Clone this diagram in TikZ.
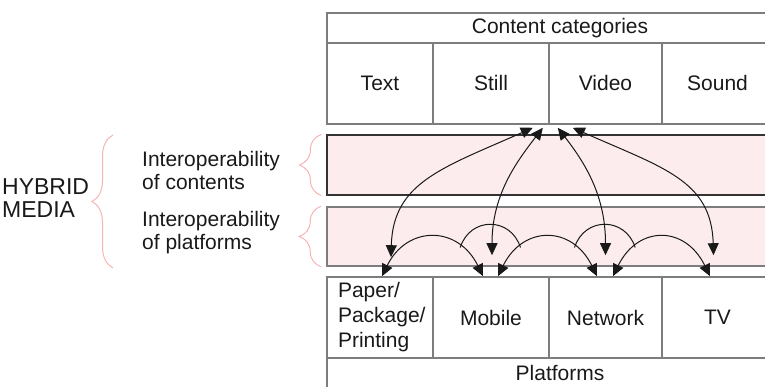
\documentclass[tikz,border=0pt]{standalone}
\usepackage{fontspec}
\setmainfont{Liberation Sans}
\usetikzlibrary{arrows.meta,decorations.pathreplacing}
\definecolor{boxgray}{RGB}{125,125,125}
\definecolor{bandpink}{RGB}{253,236,238}
\definecolor{bracepink}{RGB}{246,180,182}
\definecolor{inkgray}{RGB}{25,25,25}
\tikzstyle{cell}=[draw=boxgray,line width=1.6pt,inner sep=0pt,minimum height=81pt,text=inkgray]
\tikzstyle{band}=[cell,fill=bandpink,minimum width=466pt,minimum height=60pt]
\tikzstyle{link}=[draw=inkgray,line width=1pt]
\tikzstyle{both}=[link,<->,>={Triangle[length=12pt,width=11pt]}]
\tikzstyle{lbl}=[align=left,inner sep=0pt,text=inkgray]
\tikzstyle{curly}=[draw=bracepink,line width=1pt,decorate]

\begin{document}
\begin{tikzpicture}[x=1pt,y=1pt,font=\fontsize{21}{23}\selectfont]
                \useasboundingbox (0,0) rectangle (765,387);
                % content categories
                \node[cell,minimum width=466,minimum height=30] (head) at (560,359) {Content categories};
                \path (380,303.5) node[cell,minimum width=106] (txt) {Text}
                    ++ (111,0) node[cell,minimum width=116] (stl) {Still}
                    ++ (114.5,0) node[cell,minimum width=113] (vid) {Video}
                    ++ (112,0) node[cell,minimum width=111] (snd) {Sound};
                % interoperability bands
                \node[band,draw=black!80,line width=1.2pt] (bandC) at (560,222) {};
                \node[band,minimum height=59] (bandP) at (560,150.5) {};
                % platforms
                \path (380,69.5) node[cell,minimum width=106,text width=84,inner xsep=11,align=left,font=\fontsize{21}{25}\selectfont] (pap) {Paper/\\Package/\\Printing}
                    ++ (111,0) node[cell,minimum width=116] (mob) {Mobile}
                    ++ (114.5,0) node[cell,minimum width=113] (net) {Network}
                    ++ (112,0) node[cell,minimum width=111] (tv) {TV};
                \node[cell,minimum width=466,minimum height=30] (plat) at (560,14) {Platforms};
                % left labels and braces
                \node[lbl,anchor=west,font=\fontsize{23}{23}\selectfont] (hyb) at (2,188.5) {HYBRID\\MEDIA};
                \node[lbl,anchor=west] (ioc) at (142,216.5) {Interoperability\\of contents};
                \node[lbl,anchor=west] (iop) at (142,154) {Interoperability\\of platforms};
                \draw[curly,decoration={brace,amplitude=21pt}] (113,119) -- (113,252);
                \draw[curly,decoration={brace,amplitude=22pt}] ([xshift=-5pt]bandC.south west) -- ([xshift=-5pt]bandC.north west);
                \draw[curly,decoration={brace,amplitude=22pt}] ([xshift=-5pt]bandP.south west) -- ([xshift=-5pt]bandP.north west);
                % contents <-> platforms
                \coordinate (hub) at (stl.south east);
                \coordinate (hP) at ([shift={(-17,-3)}]hub);
                \coordinate (hM) at ([shift={(-7,-3)}]hub);
                \coordinate (hN) at ([shift={(8,-3)}]hub);
                \coordinate (hT) at ([shift={(23,-3)}]hub);
                \coordinate (dP) at ([shift={(11,19)}]pap.north);
                \coordinate (dM) at ([shift={(1,21)}]mob.north);
                \coordinate (dN) at ([shift={(0,21)}]net.north);
                \coordinate (dT) at ([shift={(-4,21)}]tv.north);
                \draw[both] (dP) .. controls +(2,75) and +(-90,-40) .. (hP);
                \draw[both] (dM) .. controls +(0,60) and +(-27,-35) .. (hM);
                \draw[both] (dN) .. controls +(0,60) and +(27,-35) .. (hN);
                \draw[both] (dT) .. controls +(-2,75) and +(90,-40) .. (hT);
                % platforms <-> platforms
                \coordinate (aP) at ([xshift=2]pap.north);
                \coordinate (aM1) at ([xshift=-8]mob.north);
                \coordinate (aM2) at ([xshift=7]mob.north);
                \coordinate (aN1) at ([xshift=-8.5]net.north);
                \coordinate (aN2) at ([xshift=7.5]net.north);
                \coordinate (aT) at ([xshift=-7.5]tv.north);
                \draw[both] (aP) .. controls +(25,51) and +(-25,51) .. (aM1) coordinate[pos=0.75] (x1);
                \draw[both] (aM2) .. controls +(25,51) and +(-25,51) .. (aN1) coordinate[pos=0.25] (x2) coordinate[pos=0.75] (x3);
                \draw[both] (aN2) .. controls +(25,51) and +(-25,51) .. (aT) coordinate[pos=0.25] (x4);
                \draw[link] (x1) .. controls +(10,31) and +(-10,31) .. (x2);
                \draw[link] (x3) .. controls +(10,31) and +(-10,31) .. (x4);
            \end{tikzpicture}
\end{document}
